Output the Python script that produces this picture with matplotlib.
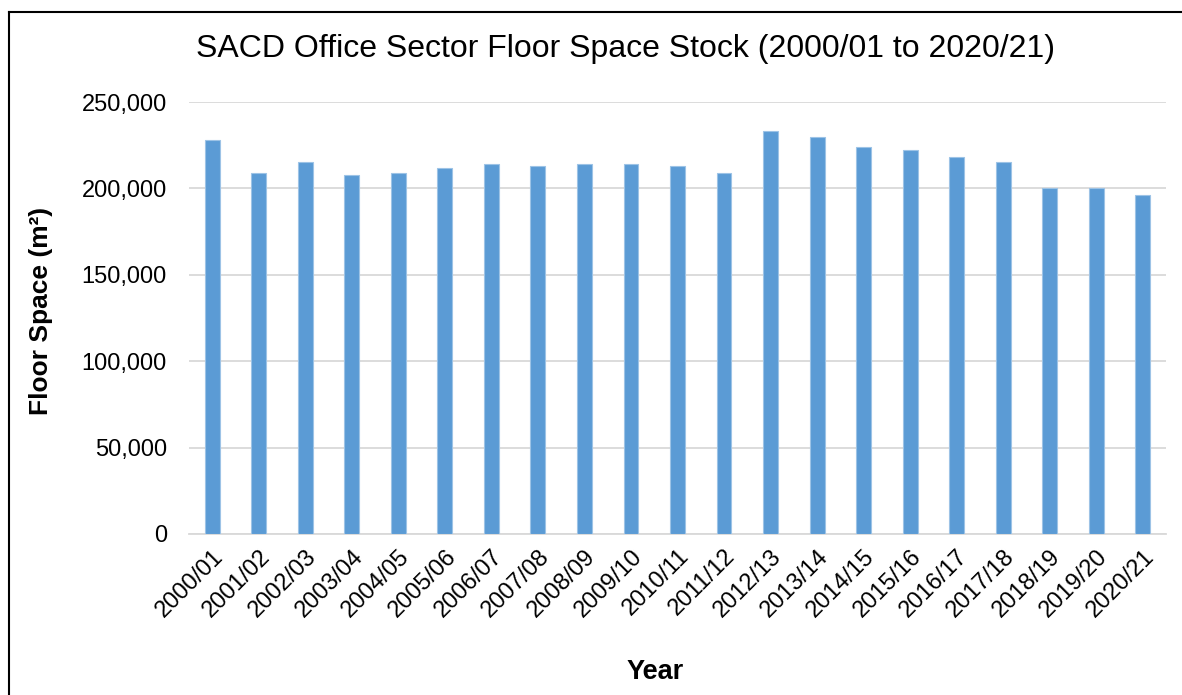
import matplotlib
matplotlib.use("Agg")
import matplotlib.pyplot as plt
from matplotlib.lines import Line2D
from matplotlib.ticker import FuncFormatter

plt.rcParams['font.family'] = ['Liberation Sans', 'DejaVu Sans']

years = ["2000/01", "2001/02", "2002/03", "2003/04", "2004/05", "2005/06",
         "2006/07", "2007/08", "2008/09", "2009/10", "2010/11", "2011/12",
         "2012/13", "2013/14", "2014/15", "2015/16", "2016/17", "2017/18",
         "2018/19", "2019/20", "2020/21"]
floor_space = [228000, 209000, 215000, 208000, 209000, 212000,
               214000, 213000, 214000, 214000, 213000, 209000,
               233000, 230000, 224000, 222000, 218000, 215000,
               200000, 200000, 196000]
y_ticks = [0, 50000, 100000, 150000, 200000, 250000]

W, H = 1182, 695
fig = plt.figure(figsize=(W / 100, H / 100), dpi=100)
fig.patch.set_facecolor("white")

# plot area in pixel coordinates
left, right, top, bottom = 189, 1166, 102, 534
ax = fig.add_axes([left / W, 1 - bottom / H, (right - left) / W, (bottom - top) / H])

x = list(range(len(years)))
ax.bar(x, floor_space, width=0.32, color="#5B9BD5", edgecolor="#9DC3E6",
       linewidth=0.8, zorder=3)

ax.set_xlim(-0.5, len(years) - 0.5)
ax.set_ylim(0, 250000)
ax.set_yticks(y_ticks)
ax.yaxis.set_major_formatter(FuncFormatter(lambda v, p: f"{int(v):,}"))
ax.grid(axis="y", color="#D9D9D9", linewidth=1.3, zorder=0)
ax.set_axisbelow(True)

for side in ("top", "right", "left"):
    ax.spines[side].set_visible(False)
ax.spines["bottom"].set_color("#D9D9D9")
ax.spines["bottom"].set_linewidth(1.3)

ax.tick_params(axis="y", length=0, pad=16, labelsize=17, labelcolor="black")
ax.tick_params(axis="x", length=0, pad=8, labelsize=17, labelcolor="black")
ax.set_xticks(x)
ax.set_xticklabels(years, rotation=45, ha="right", va="top",
                   rotation_mode="anchor")

fig.text(626 / W, 1 - 49 / H,
         "SACD Office Sector Floor Space Stock (2000/01 to 2020/21)",
         ha="center", va="center", fontsize=23, color="black")
fig.text(655 / W, 1 - 672 / H, "Year", ha="center", va="center",
         fontsize=19.5, fontweight="bold", color="black")
fig.text(41 / W, 1 - 311 / H, "Floor Space (m²)", ha="center", va="center",
         rotation=90, fontsize=19, fontweight="bold", color="black")

# chart frame
fig.add_artist(Line2D([9 / W, 9 / W], [0, 1 - 12 / H], transform=fig.transFigure,
                      color="black", linewidth=1.5))
fig.add_artist(Line2D([9 / W, 1], [1 - 12 / H, 1 - 12 / H], transform=fig.transFigure,
                      color="black", linewidth=1.5))

fig.savefig("out.png", dpi=100, facecolor="white")
